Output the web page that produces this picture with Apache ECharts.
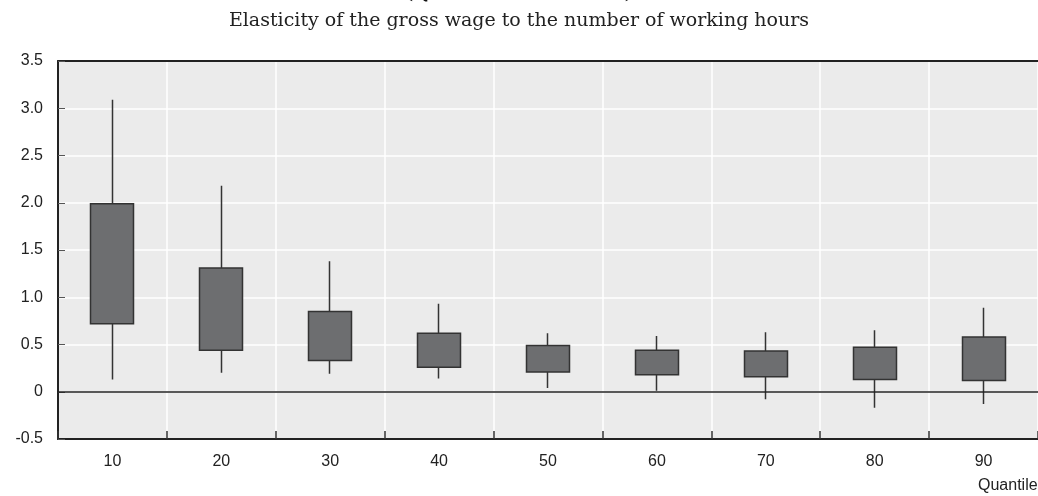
<!DOCTYPE html>
<html>
<head>
<meta charset="utf-8">
<script src="https://cdn.jsdelivr.net/npm/echarts@6/dist/echarts.min.js"></script>
<style>
  html, body { margin: 0; padding: 0; background: #ffffff; }
  #chart { width: 1038px; height: 496px; }
</style>
</head>
<body>
<div id="chart"></div>
<script>
// Quantiles of the wage distribution
const quantiles = ['10', '20', '30', '40', '50', '60', '70', '80', '90'];
// Box bounds (lower / upper) and whisker ends (low / high)
const boxLow   = [0.72, 0.44, 0.33, 0.26, 0.21, 0.18, 0.16, 0.13, 0.12];
const boxHigh  = [1.99, 1.31, 0.85, 0.62, 0.49, 0.44, 0.43, 0.47, 0.58];
const whiskLow = [0.13, 0.20, 0.19, 0.14, 0.04, 0.01, -0.08, -0.17, -0.13];
const whiskHigh= [3.09, 2.18, 1.38, 0.93, 0.62, 0.59, 0.63, 0.65, 0.89];

// candlestick rows: [open, close, lowest, highest]
const candles = quantiles.map((q, i) => [boxLow[i], boxHigh[i], whiskLow[i], whiskHigh[i]]);

const axisFont = 'Liberation Sans Narrow, Arial Narrow, Liberation Sans, sans-serif';
const serifFont = 'DejaVu Serif, serif';

const chart = echarts.init(document.getElementById('chart'), null, { renderer: 'canvas' });
chart.setOption({
  animation: false,
  backgroundColor: '#ffffff',
  title: {
    text: '(Quantile estimates)',
    left: 'center',
    top: -22,
    textStyle: { fontFamily: serifFont, fontWeight: 'bold', fontSize: 20, color: '#111111' }
  },
  graphic: [
    {
      type: 'text',
      left: 'center',
      top: 12,
      style: {
        text: 'Elasticity of the gross wage to the number of working hours',
        fontFamily: serifFont,
        fontSize: 19,
        fill: '#222222'
      }
    },
    {
      type: 'text',
      left: 978,
      top: 478,
      style: {
        text: 'Quantile',
        fontFamily: axisFont,
        fontSize: 16,
        fill: '#222222'
      }
    }
  ],
  grid: {
    left: 58, right: -4, top: 61, bottom: 57,
    show: true, backgroundColor: '#ebebeb', borderWidth: 0
  },
  xAxis: [
    {
      type: 'category',
      data: quantiles,
      boundaryGap: true,
      axisLine: { show: true, onZero: false, lineStyle: { color: '#222222', width: 2 } },
      axisTick: { show: true, inside: true, length: 8, interval: 0, lineStyle: { color: '#333333', width: 1.5 } },
      axisLabel: { margin: 15, fontFamily: axisFont, fontSize: 16, color: '#222222' },
      splitLine: { show: true, interval: 0, lineStyle: { color: '#ffffff', width: 1.5 } }
    },
    {
      type: 'category',
      position: 'top',
      data: quantiles,
      axisLine: { show: true, onZero: false, lineStyle: { color: '#222222', width: 2 } },
      axisTick: { show: false },
      axisLabel: { show: false },
      splitLine: { show: false }
    }
  ],
  yAxis: {
    type: 'value',
    min: -0.5, max: 3.5, interval: 0.5,
    axisLine: { show: true, onZero: false, lineStyle: { color: '#222222', width: 2 } },
    axisTick: { show: true, inside: true, length: 7, lineStyle: { color: '#555555', width: 1 } },
    axisLabel: {
      margin: 15, fontFamily: axisFont, fontSize: 16, color: '#222222',
      formatter: v => (v === 0 ? '0' : v.toFixed(1))
    },
    splitLine: { show: true, lineStyle: { color: '#ffffff', width: 1.5 } }
  },
  series: [
    {
      type: 'candlestick',
      data: candles,
      barWidth: '40%',
      itemStyle: {
        color: '#6d6e70', color0: '#6d6e70',
        borderColor: '#333333', borderColor0: '#333333',
        borderWidth: 1.5
      },
      markLine: {
        silent: true,
        symbol: 'none',
        label: { show: false },
        lineStyle: { color: '#222222', width: 1.5, type: 'solid' },
        data: [{ yAxis: 0 }]
      },
      z: 3
    }
  ]
});
</script>
</body>
</html>
